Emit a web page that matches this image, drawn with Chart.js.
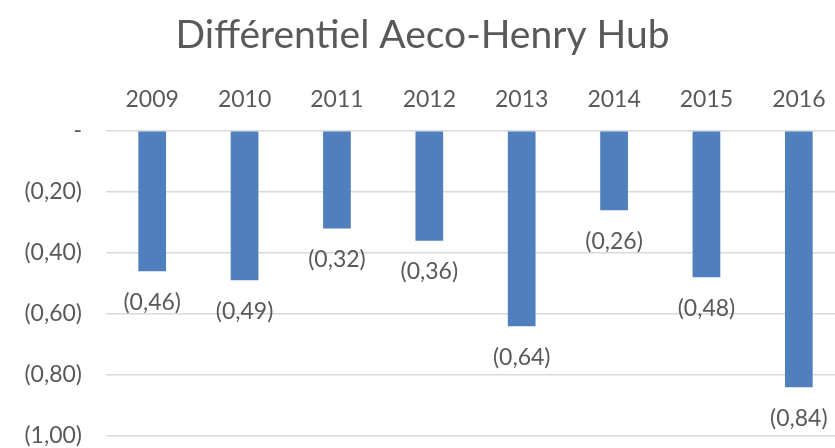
<!DOCTYPE html>
<html lang="fr">
<head>
  <meta charset="UTF-8">
  <title>Différentiel Aeco-Henry Hub</title>
  <script src="https://cdn.jsdelivr.net/npm/chart.js"></script>
  <style>
    html, body { margin: 0; padding: 0; background: #fff; overflow: hidden; }
    #wrap { width: 835px; height: 448px; overflow: hidden; }
  </style>
</head>
<body>
  <div id="wrap">
    <canvas id="chart" width="845" height="448"></canvas>
  </div>

  <script>
    const years = ['2009', '2010', '2011', '2012', '2013', '2014', '2015', '2016'];
    const differential = [-0.46, -0.49, -0.32, -0.36, -0.64, -0.26, -0.48, -0.84];
    const yTicks = [0, -0.2, -0.4, -0.6, -0.8, -1.0];

    const grey = '#595959';
    const fontFamily = 'Lato, "Open Sans", sans-serif';

    // format like accounting: (0,46), zero shown as "-"
    function fmt(v) {
      if (Math.abs(v) < 1e-9) return '-';
      return '(' + Math.abs(v).toFixed(2).replace('.', ',') + ')';
    }

    const valueLabels = {
      id: 'valueLabels',
      afterDatasetsDraw(chart) {
        const ctx = chart.ctx;
        const meta = chart.getDatasetMeta(0);
        ctx.save();
        ctx.fillStyle = grey;
        ctx.font = '23px ' + fontFamily;
        ctx.textAlign = 'center';
        ctx.textBaseline = 'middle';
        meta.data.forEach((bar, i) => {
          ctx.fillText(fmt(differential[i]), bar.x, bar.y + 31);
        });
        ctx.restore();
      }
    };

    new Chart(document.getElementById('chart'), {
      type: 'bar',
      data: {
        labels: years,
        datasets: [{
          data: differential,
          backgroundColor: '#4f7fbd',
          barPercentage: 0.3,
          categoryPercentage: 1.0
        }]
      },
      options: {
        responsive: false,
        animation: false,
        layout: { padding: { top: 0, bottom: 12, left: 0, right: 0 } },
        plugins: {
          legend: { display: false },
          tooltip: { enabled: false },
          title: {
            display: true,
            text: 'Différentiel Aeco-Henry Hub',
            color: grey,
            font: { family: fontFamily, size: 39, weight: 'normal' },
            padding: { top: 12, bottom: 4 }
          }
        },
        scales: {
          x: {
            position: 'top',
            grid: { display: false, drawTicks: false },
            border: { display: false },
            ticks: {
              color: grey,
              font: { family: fontFamily, size: 23 },
              padding: 17,
              maxRotation: 0
            },
            afterFit: s => { s.height = 68; }
          },
          y: {
            min: -1.0,
            max: 0,
            afterBuildTicks: s => { s.ticks = yTicks.map(v => ({ value: v })); },
            grid: { color: '#d9d9d9', lineWidth: 1.5, drawTicks: false },
            border: { display: false },
            ticks: {
              color: grey,
              font: { family: fontFamily, size: 23 },
              padding: 24,
              callback: v => fmt(v)
            },
            afterFit: s => {
              s.width = 106;
              s.paddingTop = 0;
              s.paddingBottom = 0;
            }
          }
        }
      },
      plugins: [valueLabels]
    });
  </script>
</body>
</html>
